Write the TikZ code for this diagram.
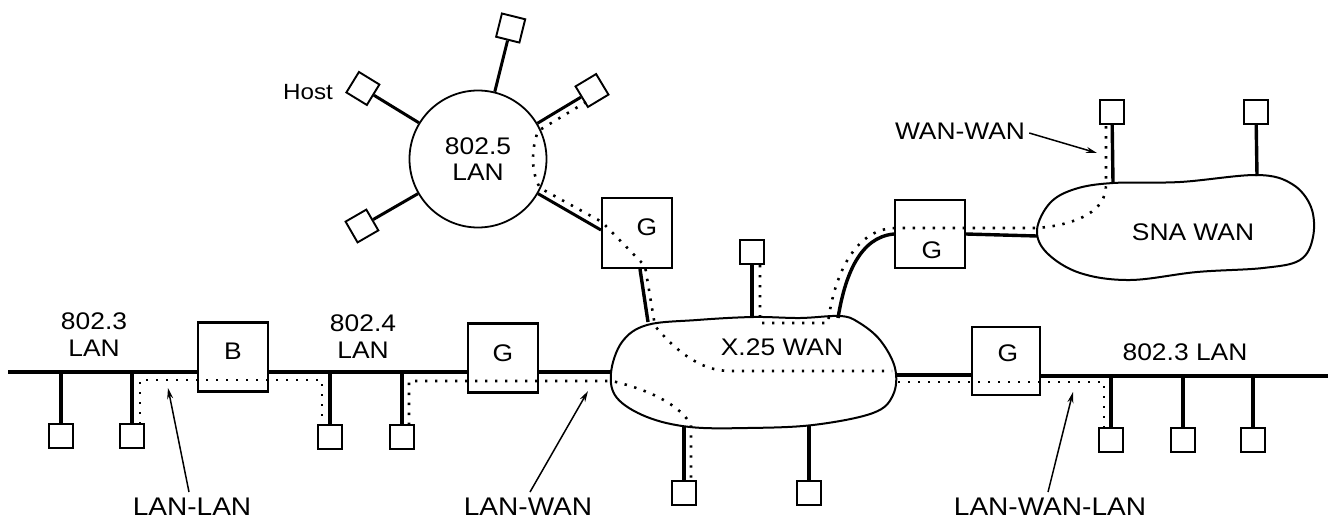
\documentclass[tikz,border=0pt]{standalone}
\usepackage{fontspec}
\setmainfont{Liberation Sans}[FakeStretch=1.1]
\usetikzlibrary{calc,arrows.meta}
\begin{document}
\begin{tikzpicture}[x=1pt,y=-1pt,
  ln/.style={line width=3.4pt},
  spoke/.style={line width=3pt},
  hostbox/.style={draw,line width=1.9pt,fill=white,minimum size=24pt,inner sep=0pt},
  gbox/.style={draw,line width=2.1pt,fill=white,minimum width=70pt,minimum height=69pt,inner sep=0pt},
  route/.style={line width=2.6pt,dash pattern=on 2.4pt off 7.6pt},
  callout/.style={line width=1.5pt,-{Stealth[length=11pt,width=6pt]}},
  txt/.style={font=\fontsize{24}{27}\selectfont,align=center,inner sep=0pt},
  lbl/.style={font=\fontsize{25.5}{28}\selectfont,inner sep=0pt},
  cloudline/.style={line width=2pt,fill=white}]
\useasboundingbox (0,0) rectangle (1335,520);

% clouds
\draw[cloudline] plot[smooth cycle,tension=0.6] coordinates {(611,373) (622,342) (647,325) (697,320) (753,317) (800,318) (840,316) (858,322) (880,340) (895,368) (893,395) (873,413) (813,425) (747,428) (690,427) (647,417) (617,398)};
\draw[cloudline] plot[smooth cycle,tension=0.6] coordinates {(1037,230) (1050,203) (1075,189) (1113,183) (1180,182) (1257,175) (1292,184) (1311,207) (1313,237) (1300,260) (1263,268) (1197,272) (1130,280) (1080,273) (1047,253)};
\node[txt] (x25lbl) at (782,347) {X.25 WAN};
\node[txt] (snalbl) at (1193,232) {SNA WAN};

% cloud attach points
\coordinate (busL) at (8,372);
\coordinate (x25W) at (611,372);
\coordinate (x25E) at (895,375);
\coordinate (busR) at (1328,376);
\coordinate (x25N1) at (648,322);
\coordinate (x25N2) at (752,317);
\coordinate (x25N3) at (838,318);
\coordinate (x25S1) at (684,427);
\coordinate (x25S2) at (809,426);
\coordinate (snaW) at (1037,236);
\coordinate (snaN1) at (1113,183);
\coordinate (snaN2) at (1257,176);

% gateways and bridge
\node[gbox,label={[txt,yshift=6pt]center:B}] (B) at (233,357) {};
\node[gbox,label={[txt,yshift=5pt]center:G}] (G1) at (503,358) {};
\node[gbox,minimum height=70pt,label={[txt,xshift=10pt,yshift=6pt]center:G}] (G2) at (637,233) {};
\node[gbox,minimum height=68pt,label={[txt,xshift=2pt,yshift=-16pt]center:G}] (G3) at (930,234) {};
\node[gbox,minimum width=68pt,minimum height=68pt,label={[txt,xshift=2pt,yshift=8pt]center:G}] (G4) at (1006,361) {};

% token ring
\coordinate (c0) at (478,159);
\node[draw,circle,line width=1.8pt,minimum size=137pt,inner sep=0pt,txt,font=\fontsize{24}{26}\selectfont] (ring) at (c0) {802.5\\LAN};
\node[hostbox,rotate=58.5] (hUL) at ($(c0)+(-148.5:135)$) {};
\node[hostbox,rotate=-14] (hT) at ($(c0)+(-76:135)$) {};
\node[hostbox,rotate=31] (hUR) at ($(c0)+(-31:133)$) {};
\node[hostbox,rotate=30] (hLL) at ($(c0)+(-210:134)$) {};
\node[txt,font=\fontsize{22}{24}\selectfont] (hostlbl) at (308,92) {Host};
\draw[spoke] (ring) -- (hUL);
\draw[spoke] (ring) -- (hT);
\draw[spoke] (ring) -- (hUR);
\draw[spoke] (ring) -- (hLL);
\draw[spoke] (ring) -- ([yshift=3pt]G2.west);

% hosts
\node[hostbox] (h1) at (61,436) {};
\node[hostbox] (h2) at (132,436) {};
\node[hostbox] (h3) at (330,437) {};
\node[hostbox] (h4) at (402,437) {};
\node[hostbox] (hb1) at (684,493) {};
\node[hostbox] (hb2) at (809,493) {};
\node[hostbox] (ht) at (752,252) {};
\node[hostbox] (hr1) at (1111,440) {};
\node[hostbox] (hr2) at (1183,440) {};
\node[hostbox] (hr3) at (1253,440) {};
\node[hostbox] (hs1) at (1112,112) {};
\node[hostbox] (hs2) at (1256,112) {};

% buses
\draw[ln] (busL) -- (busL -| B.west);
\draw[ln] (B.east |- busL) -- (G1.west |- busL);
\draw[ln] (G1.east |- busL) -- (x25W);
\draw[ln] (x25E) -- (x25E -| G4.west);
\draw[ln] (G4.east |- busR) -- (busR);
\draw[ln] (h1) -- (h1 |- busL);
\draw[ln] (h2) -- (h2 |- busL);
\draw[ln] (h3) -- (h3 |- busL);
\draw[ln] (h4) -- (h4 |- busL);
\draw[ln] (hr1) -- (hr1 |- busR);
\draw[ln] (hr2) -- (hr2 |- busR);
\draw[ln] (hr3) -- (hr3 |- busR);
\draw[ln] (hb1) -- (x25S1);
\draw[ln] (hb2) -- (x25S2);
\draw[ln] (ht) -- (x25N2);
\draw[ln] ([xshift=3pt]G2.south) -- (x25N1);
\draw[ln] (x25N3) .. controls (845,275) and (860,237) .. (G3.west);
\draw[ln] (G3.east) -- (snaW);
\draw[ln] (hs1) -- (snaN1);
\draw[ln] (hs2) -- (snaN2);

% labels
\node[txt] (l8023) at (94,335) {802.3\\LAN};
\node[txt] (l8024) at (363,337) {802.4\\LAN};
\node[txt] (l8023r) at (1185,352) {802.3 LAN};
\node[lbl] (lLL) at (192,507) {LAN-LAN};
\node[lbl] (lLW) at (528,507) {LAN-WAN};
\node[lbl] (lLWL) at (1050,507) {LAN-WAN-LAN};
\node[txt] (lWW) at (960,131) {WAN-WAN};

% routes (dotted)
\draw[route] (140,424) -- (140,380) -- (322,380) -- (322,425);
\draw[route] (409,425) -- (409,381) -- (612,381) .. controls (650,390) and (680,405) .. (691,425) -- (691,481);
\draw[route] (586,102) -- (538,131) .. controls (531,150) and (531,172) .. (540,188) -- (602,222) -- (645,266) -- (655,326) .. controls (675,350) and (700,371) .. (730,371) -- (892,371);
\draw[route] (898,382) -- (1104,382) -- (1104,428);
\draw[route] (760,265) -- (760,323) -- (828,323) .. controls (834,275) and (855,229) .. (895,228) -- (1038,228) .. controls (1080,224) and (1106,210) .. (1106,185) -- (1106,125);

% callouts
\coordinate (aLL) at (168,388);
\coordinate (aLW) at (588,391);
\coordinate (aLWL) at (1073,392);
\coordinate (aWW) at (1097,153);
\draw[callout] ([xshift=-3pt,yshift=6pt]lLL.north) -- (aLL);
\draw[callout] ([xshift=2pt,yshift=6pt]lLW.north) -- (aLW);
\draw[callout] ([xshift=-2pt,yshift=6pt]lLWL.north) -- (aLWL);
\draw[callout] ([xshift=4pt,yshift=-2pt]lWW.east) -- (aWW);
\end{tikzpicture}
\end{document}
